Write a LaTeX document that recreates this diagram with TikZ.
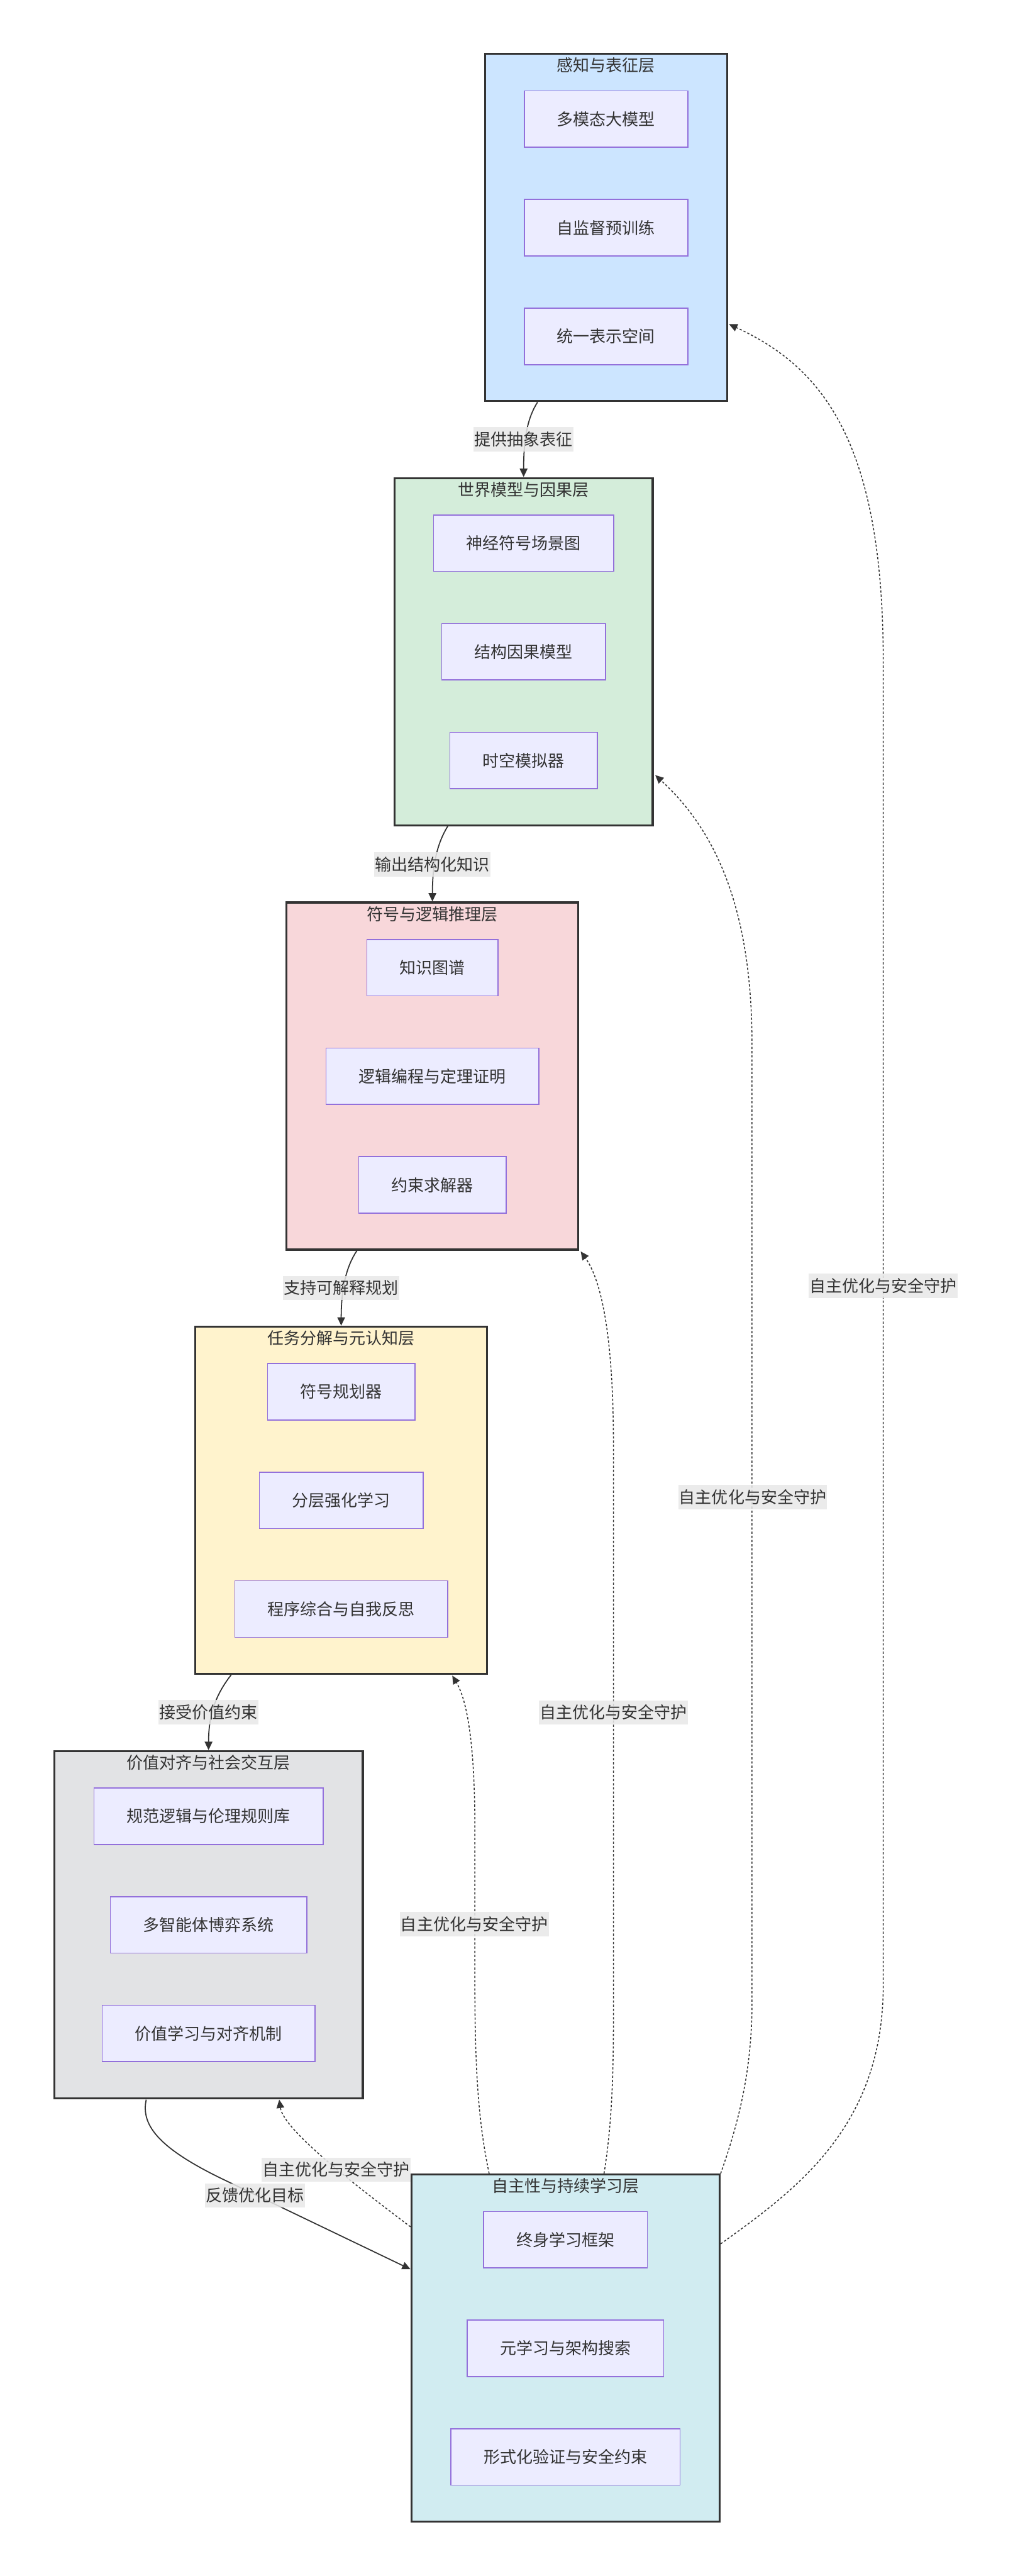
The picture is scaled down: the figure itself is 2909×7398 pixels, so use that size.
\documentclass[tikz,border=0pt]{standalone}
\usepackage{fontspec}
\setmainfont{Noto Sans CJK SC}
\usetikzlibrary{arrows.meta,calc}

\definecolor{ink}{HTML}{333333}
\definecolor{fillA}{HTML}{CCE5FF}
\definecolor{fillB}{HTML}{D4EDDA}
\definecolor{fillC}{HTML}{F8D7DA}
\definecolor{fillD}{HTML}{FFF3CD}
\definecolor{fillE}{HTML}{E2E3E5}
\definecolor{fillF}{HTML}{D1ECF1}
\definecolor{itemfill}{HTML}{ECECFF}
\definecolor{itemline}{HTML}{9370DB}
\definecolor{lblbg}{HTML}{E8E8E8}

\tikzset{
  layer/.style={draw=ink, line width=1.5pt, rectangle, minimum height=249.25pt, inner sep=0pt},
  layertitle/.style={text=ink, inner sep=0pt},
  item/.style={draw=itemline, fill=itemfill, line width=0.75pt, text=ink,
    inner xsep=23.5pt, inner ysep=0pt, minimum height=40.5pt},
  edgelabel/.style={fill=lblbg, fill opacity=0.85, text opacity=1, text=ink,
    inner xsep=0.6pt, inner ysep=0pt, minimum height=17.5pt},
  link/.style={draw=ink, line width=0.8pt, -{Triangle[width=5.5pt,length=6pt]}},
  dlink/.style={draw=ink, line width=0.7pt, dash pattern=on 1.6pt off 1.4pt,
    -{Triangle[width=5.5pt,length=6pt]}}
}

\begin{document}
\begin{tikzpicture}[x=0.25pt, y=-0.25pt, font=\fontsize{11.75pt}{14pt}\selectfont]
\fill[white] (0,0) rectangle (2909,7398);
\useasboundingbox (0,0) rectangle (2909,7398);

% ---- layers ----
\node[layer, fill=fillA, minimum width=174pt]    (l1) at (1741,653.5)  {};
\node[layer, fill=fillB, minimum width=185.5pt]  (l2) at (1504,1871.5) {};
\node[layer, fill=fillC, minimum width=209.5pt]  (l3) at (1242,3090.5) {};
\node[layer, fill=fillD, minimum width=209.5pt]  (l4) at (980,4308.5)  {};
\node[layer, fill=fillE, minimum width=221.5pt]  (l5) at (599,5527.5)  {};
\node[layer, fill=fillF, minimum width=221.25pt] (l6) at (1624.5,6743.5) {};

\node[layertitle] (t1) at (1741,188)   {感知与表征层};
\node[layertitle] (t2) at (1504,1406)  {世界模型与因果层};
\node[layertitle] (t3) at (1242,2625)  {符号与逻辑推理层};
\node[layertitle] (t4) at (980,3843)   {任务分解与元认知层};
\node[layertitle] (t5) at (599,5062)   {价值对齐与社会交互层};
\node[layertitle] (t6) at (1624.5,6278) {自主性与持续学习层};

% ---- components ----
\node[item] (a1) at (1741,342)  {多模态大模型};
\node[item] (a2) at (1741,654)  {自监督预训练};
\node[item] (a3) at (1741,966)  {统一表示空间};

\node[item] (b1) at (1504,1560) {神经符号场景图};
\node[item] (b2) at (1504,1872) {结构因果模型};
\node[item] (b3) at (1504,2184) {时空模拟器};

\node[item] (c1) at (1242,2779) {知识图谱};
\node[item] (c2) at (1242,3091) {逻辑编程与定理证明};
\node[item] (c3) at (1242,3403) {约束求解器};

\node[item] (d1) at (980,3997)  {符号规划器};
\node[item] (d2) at (980,4309)  {分层强化学习};
\node[item] (d3) at (980,4621)  {程序综合与自我反思};

\node[item] (e1) at (599,5216)  {规范逻辑与伦理规则库};
\node[item] (e2) at (599,5528)  {多智能体博弈系统};
\node[item] (e3) at (599,5840)  {价值学习与对齐机制};

\node[item] (f1) at (1624.5,6432) {终身学习框架};
\node[item] (f2) at (1624.5,6744) {元学习与架构搜索};
\node[item] (f3) at (1624.5,7056) {形式化验证与安全约束};

% ---- main flow between layers ----
\draw[link] ($(l1.south west)+(154,0)$) .. controls (1515,1200) and (1504,1260) .. (l2.north);
\draw[link] ($(l2.south west)+(156,0)$) .. controls (1257,2420) and (1242,2479) .. (l3.north);
\draw[link] ($(l3.south west)+(205,0)$) .. controls (996,3635) and (980,3697) .. (l4.north);
\draw[link] ($(l4.south west)+(106,0)$) .. controls (625,4860) and (599,4916) .. (l5.north);
\draw[link] ($(l5.south west)+(267,1)$) .. controls (405,6100) and (450,6165) .. (631,6254)
  -- ($(l6.north west)+(0,275)$);

% ---- feedback from the autonomy layer ----
\draw[dlink] ($(l6.north east)+(0,202)$) .. controls (2300,6280) and (2537,6100) .. (2537,5700)
  -- (2537,1900) .. controls (2537,1250) and (2350,1050) .. ($(l1.south east)+(2,-224)$);
\draw[dlink] (l6.north east) .. controls (2120,6100) and (2160,5950) .. (2160,5750)
  -- (2160,3000) .. controls (2160,2600) and (2050,2380) .. ($(l2.south east)+(4,-147)$);
\draw[dlink] ($(l6.north west)+(556,0)$) .. controls (1758,6100) and (1762,5950) .. (1762,5800)
  -- (1762,4150) .. controls (1762,3850) and (1730,3680) .. ($(l3.south east)+(4,2)$);
\draw[dlink] ($(l6.north west)+(226,0)$) .. controls (1375,6100) and (1364,5950) .. (1364,5700)
  -- (1364,5250) .. controls (1364,5000) and (1340,4880) .. ($(l4.south east)+(-103,2)$);
\draw[dlink] ($(l6.north west)+(0,153)$) .. controls (1040,6290) and (815,6120) .. ($(l5.south west)+(649,1)$);

% ---- connector labels ----
\node[edgelabel] (m1) at (1504,1262) {提供抽象表征};
\node[edgelabel] (m2) at (1242,2482) {输出结构化知识};
\node[edgelabel] (m3) at (980,3699)  {支持可解释规划};
\node[edgelabel] (m4) at (599,4917)  {接受价值约束};
\node[edgelabel] (m5) at (732,6305)  {反馈优化目标};

\node[edgelabel] (g1) at (2537,3692) {自主优化与安全守护};
\node[edgelabel] (g2) at (2162,4300) {自主优化与安全守护};
\node[edgelabel] (g3) at (1762,4918) {自主优化与安全守护};
\node[edgelabel] (g4) at (1362,5526) {自主优化与安全守护};
\node[edgelabel] (g5) at (965,6231)  {自主优化与安全守护};
\end{tikzpicture}
\end{document}
